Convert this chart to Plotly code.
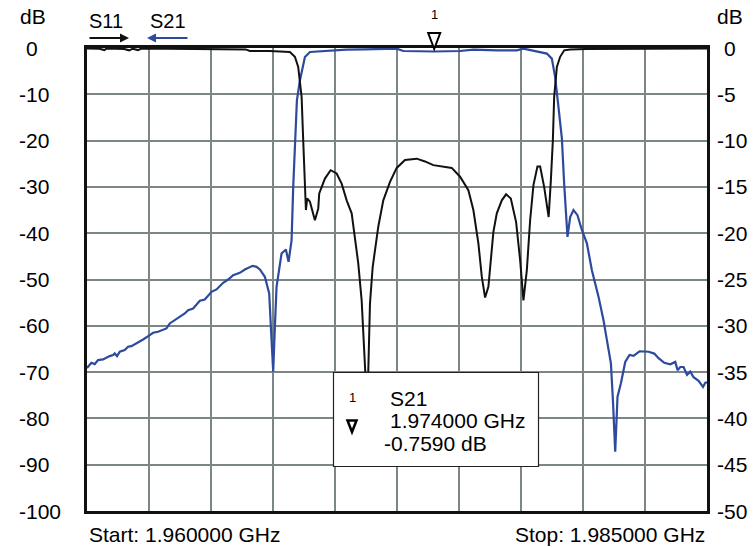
import plotly.graph_objects as go

# ---- measured data -------------------------------------------------------
freq_start = 1.960000   # GHz
freq_stop = 1.985000    # GHz

# S21 transmission (dB)
s21_freq = [
    1.960000, 1.960176, 1.960311, 1.960445, 1.960647, 1.960782, 1.960916,
    1.961051, 1.961118, 1.961212, 1.961320, 1.961522, 1.961656, 1.961791,
    1.961993, 1.962262, 1.962531, 1.962665, 1.962867, 1.963002, 1.963204,
    1.963338, 1.963540, 1.963674, 1.963943, 1.964078, 1.964280, 1.964549,
    1.964751, 1.965020, 1.965222, 1.965490, 1.965692, 1.965894, 1.966163,
    1.966365, 1.966567, 1.966675, 1.966836, 1.966971, 1.967172, 1.967347,
    1.967428, 1.967508, 1.967576, 1.967643, 1.967845, 1.968020, 1.968128,
    1.968249, 1.968315, 1.968383, 1.968464, 1.968585, 1.968787, 1.968989,
    1.969663, 1.970470, 1.971200, 1.972488, 1.972754, 1.973400, 1.974000,
    1.975043, 1.975580, 1.976524, 1.977331, 1.977598, 1.978139, 1.978542,
    1.978744, 1.978877, 1.979010, 1.979148, 1.979240, 1.979321, 1.979374,
    1.979483, 1.979616, 1.979777, 1.979955, 1.980157, 1.980358, 1.980625,
    1.980827, 1.980964, 1.981125, 1.981206, 1.981299, 1.981392, 1.981529,
    1.981703, 1.981876, 1.982038, 1.982280, 1.982643, 1.982873, 1.983047,
    1.983277, 1.983519, 1.983721, 1.983814, 1.983922, 1.984056, 1.984193,
    1.984326, 1.984459, 1.984661, 1.984839, 1.984932, 1.985000,
]
s21_db = [
    -69.10, -67.98, -68.27, -67.41, -67.26, -66.83, -66.55,
    -66.33, -65.97, -66.55, -65.61, -65.25, -64.53, -64.39,
    -63.81, -62.95, -62.01, -61.51, -61.29, -60.93, -60.57,
    -59.49, -58.77, -58.41, -57.33, -56.62, -56.26, -54.60,
    -54.31, -52.66, -52.15, -50.72, -50.00, -49.06, -48.56,
    -47.84, -47.26, -47.05, -47.26, -47.84, -49.42, -53.02,
    -61.65, -69.93, -60.20, -51.58, -44.38, -43.52, -46.18,
    -41.51, -30.00, -19.90, -11.30, -7.00, -1.94, -0.86,
    -0.65, -0.35, -0.30, -0.13, -0.65, -0.70, -0.759,
    -0.65, -0.35, -0.50, -0.50, -0.13, -0.65, -1.20,
    -2.30, -6.30, -12.70, -19.50, -29.30, -36.50, -40.80,
    -36.50, -35.00, -36.10, -39.30, -42.20, -48.00, -53.70,
    -58.80, -63.10, -68.10, -76.00, -87.20, -75.30, -72.40,
    -67.80, -66.30, -66.50, -65.50, -65.60, -66.00, -67.00,
    -68.00, -68.30, -67.80, -69.60, -68.90, -68.90, -70.60,
    -69.90, -71.10, -71.90, -73.20, -72.30, -72.20,
]

# S11 reflection (dB)
s11_freq = [
    1.960000, 1.960500, 1.960700, 1.960800, 1.961500, 1.961700, 1.961850,
    1.962050, 1.962200, 1.964000, 1.966400, 1.966567, 1.967374, 1.968181,
    1.968383, 1.968516, 1.968654, 1.968718, 1.968787, 1.968827, 1.968880,
    1.968989, 1.969190, 1.969324, 1.969364, 1.969594, 1.969824, 1.970066,
    1.970268, 1.970470, 1.970672, 1.970805, 1.970938, 1.971075, 1.971140,
    1.971208, 1.971269, 1.971342, 1.971410, 1.971519, 1.971745, 1.971947,
    1.972218, 1.972488, 1.972823, 1.973295, 1.973630, 1.973965, 1.974369,
    1.974708, 1.975043, 1.975378, 1.975580, 1.975782, 1.975919, 1.976052,
    1.976185, 1.976322, 1.976387, 1.976524, 1.976726, 1.976899, 1.977089,
    1.977303, 1.977465, 1.977598, 1.977735, 1.977868, 1.978002, 1.978163,
    1.978272, 1.978433, 1.978615, 1.978704, 1.978785, 1.978837, 1.978946,
    1.979079, 1.979241, 1.979483, 1.980157, 1.985000,
]
s11_db = [
    -0.10, -0.15, -0.45, -0.10, -0.20, -0.50, -0.15,
    -0.45, -0.10, -0.20, -0.30, -0.65, -0.65, -0.86,
    -1.90, -4.10, -10.60, -19.90, -28.60, -35.00, -32.50,
    -33.20, -37.20, -34.70, -31.40, -28.20, -26.40, -27.10,
    -29.30, -32.90, -35.70, -41.10, -46.50, -54.50, -62.40,
    -69.90, -75.00, -69.90, -55.20, -47.30, -38.60, -32.90,
    -28.90, -25.90, -24.20, -23.90, -24.50, -25.30, -25.70,
    -25.90, -27.80, -30.70, -35.00, -42.20, -49.40, -53.90,
    -51.60, -44.40, -39.70, -35.70, -32.90, -31.60, -32.50,
    -37.60, -45.80, -54.50, -48.00, -37.20, -29.60, -25.60,
    -25.60, -30.00, -36.50, -28.60, -19.90, -10.60, -4.10,
    -1.90, -0.50, -0.35, -0.20, -0.10,
]

# Display scales
left_ticks = [0, -10, -20, -30, -40, -50, -60, -70, -80, -90, -100]
right_ticks = [0, -5, -10, -15, -20, -25, -30, -35, -40, -45, -50]

# Marker readout
marker_id = "1"
marker_trace = "S21"
marker_freq = 1.974000
marker_db = s21_db[s21_freq.index(marker_freq)]

# ---- styling --------------------------------------------------------------
W, H = 756, 547
PL, PT, PW, PH = 87, 48, 620, 463     # plot area in pixels
FONT = "Liberation Sans, Arial, sans-serif"
BLUE = "#2d4a9c"
GRID = "#7c8686"


def px(x):
    """Horizontal page pixel -> paper coordinate."""
    return (x - PL) / PW


def py(y):
    """Vertical page pixel -> paper coordinate."""
    return (PT + PH - y) / PH


# marker position as a fraction of the x-axis span
marker_frac = (marker_freq - freq_start) / (freq_stop - freq_start)

fig = go.Figure()

fig.add_trace(go.Scatter(
    x=s21_freq, y=s21_db, mode="lines", name="S21",
    line=dict(color=BLUE, width=2.2), showlegend=False,
))
fig.add_trace(go.Scatter(
    x=s11_freq, y=s11_db, mode="lines", name="S11",
    line=dict(color="#111111", width=2), showlegend=False,
))
# anchor trace for the right-hand scale
fig.add_trace(go.Scatter(x=[None], y=[None], yaxis="y2",
                         showlegend=False, hoverinfo="skip"))

annotations = []

# tick labels (digits aligned, minus sign hanging to the left)
for v in left_ticks:
    annotations.append(dict(
        xref="paper", yref="y", x=px(17 if v < 0 else 24), y=v,
        xanchor="left", yanchor="middle", text=str(v), showarrow=False,
        font=dict(size=21, color="black", family=FONT),
    ))
for v in right_ticks:
    annotations.append(dict(
        xref="paper", yref="y2", x=px(715 if v < 0 else 722), y=v,
        xanchor="left", yanchor="middle", text=str(v), showarrow=False,
        font=dict(size=21, color="black", family=FONT),
    ))

# units
for xpos in (18, 715):
    annotations.append(dict(
        xref="paper", yref="paper", x=px(xpos), y=py(17),
        xanchor="left", yanchor="middle", text="dB", showarrow=False,
        font=dict(size=21, color="black", family=FONT),
    ))

# trace labels with direction arrows
annotations.append(dict(
    xref="paper", yref="paper", x=px(87), y=py(21), xanchor="left",
    yanchor="middle", text="S11", showarrow=False,
    font=dict(size=20, color="black", family=FONT),
))
annotations.append(dict(
    xref="paper", yref="paper", x=px(148), y=py(21), xanchor="left",
    yanchor="middle", text="S21", showarrow=False,
    font=dict(size=20, color="black", family=FONT),
))
annotations.append(dict(
    xref="paper", yref="paper", x=px(129), y=py(38), text="",
    showarrow=True, ax=-41, ay=0, arrowhead=2, arrowsize=0.9,
    arrowwidth=2, arrowcolor="#111111",
))
annotations.append(dict(
    xref="paper", yref="paper", x=px(147), y=py(38), text="",
    showarrow=True, ax=42, ay=0, arrowhead=2, arrowsize=0.9,
    arrowwidth=2, arrowcolor=BLUE,
))

# marker number above the trace marker
annotations.append(dict(
    xref="x", yref="paper", x=marker_freq, y=py(14),
    xanchor="center", yanchor="middle", text=marker_id, showarrow=False,
    font=dict(size=13, color="black", family=FONT),
))

# start / stop frequencies
annotations.append(dict(
    xref="paper", yref="paper", x=px(87), y=py(534),
    xanchor="left", yanchor="middle",
    text=f"Start: {freq_start:.6f} GHz", showarrow=False,
    font=dict(size=21, color="black", family=FONT),
))
annotations.append(dict(
    xref="paper", yref="paper", x=px(707), y=py(534),
    xanchor="right", yanchor="middle",
    text=f"Stop: {freq_stop:.6f} GHz", showarrow=False,
    font=dict(size=21, color="black", family=FONT),
))

# marker readout box contents
annotations.append(dict(
    xref="paper", yref="paper", x=px(352), y=py(397),
    xanchor="center", yanchor="middle", text=marker_id, showarrow=False,
    font=dict(size=13, color="black", family=FONT),
))
annotations.append(dict(
    xref="paper", yref="paper", x=px(388), y=py(398),
    xanchor="left", yanchor="middle", text=marker_trace, showarrow=False,
    font=dict(size=21, color="black", family=FONT),
))
annotations.append(dict(
    xref="paper", yref="paper", x=px(388), y=py(420),
    xanchor="left", yanchor="middle", text=f"{marker_freq:.6f} GHz",
    showarrow=False, font=dict(size=21, color="black", family=FONT),
))
annotations.append(dict(
    xref="paper", yref="paper", x=px(382), y=py(443),
    xanchor="left", yanchor="middle", text=f"{marker_db:.4f} dB",
    showarrow=False, font=dict(size=21, color="black", family=FONT),
))

shapes = [
    # readout box
    dict(type="rect", xref="paper", yref="paper",
         x0=px(333.5), x1=px(538.5), y0=py(466.5), y1=py(372.5),
         line=dict(color="#222222", width=1.2), fillcolor="white",
         layer="above"),
    # trace marker triangle sitting on the top edge
    dict(type="path", xref="x domain", yref="paper",
         xanchor=marker_frac, yanchor=1,
         xsizemode="pixel", ysizemode="pixel",
         path="M -6,15 L 6,15 L 0,-1 Z",
         line=dict(color="black", width=2), fillcolor="white",
         layer="above"),
    # marker symbol inside the readout box
    dict(type="path", xref="paper", yref="paper",
         xanchor=px(352), yanchor=py(426),
         xsizemode="pixel", ysizemode="pixel",
         path="M -4.5,5.5 L 4.5,5.5 L 0,-6 Z",
         line=dict(color="black", width=2.5), fillcolor="white",
         layer="above"),
]

fig.update_layout(
    width=W, height=H,
    margin=dict(l=PL, r=W - PL - PW, t=PT, b=H - PT - PH, pad=0),
    paper_bgcolor="white", plot_bgcolor="white",
    font=dict(family=FONT, size=21, color="black"),
    showlegend=False,
    annotations=annotations,
    shapes=shapes,
    xaxis=dict(
        range=[freq_start, freq_stop], tick0=freq_start,
        dtick=(freq_stop - freq_start) / 10, showticklabels=False,
        ticks="", showgrid=True, gridcolor=GRID, gridwidth=2,
        zeroline=False, showline=True, mirror=True,
        linecolor="#111111", linewidth=2.5, fixedrange=True,
    ),
    yaxis=dict(
        range=[left_ticks[-1], left_ticks[0]], tick0=0, dtick=10,
        showticklabels=False, ticks="", showgrid=True, gridcolor=GRID,
        gridwidth=2, zeroline=False, showline=True, mirror=True,
        linecolor="#111111", linewidth=2.5, fixedrange=True,
    ),
    yaxis2=dict(
        range=[right_ticks[-1], right_ticks[0]], overlaying="y",
        side="right", showticklabels=False, ticks="", showgrid=False,
        zeroline=False, showline=False, fixedrange=True,
    ),
)

fig.write_html("out.html")
